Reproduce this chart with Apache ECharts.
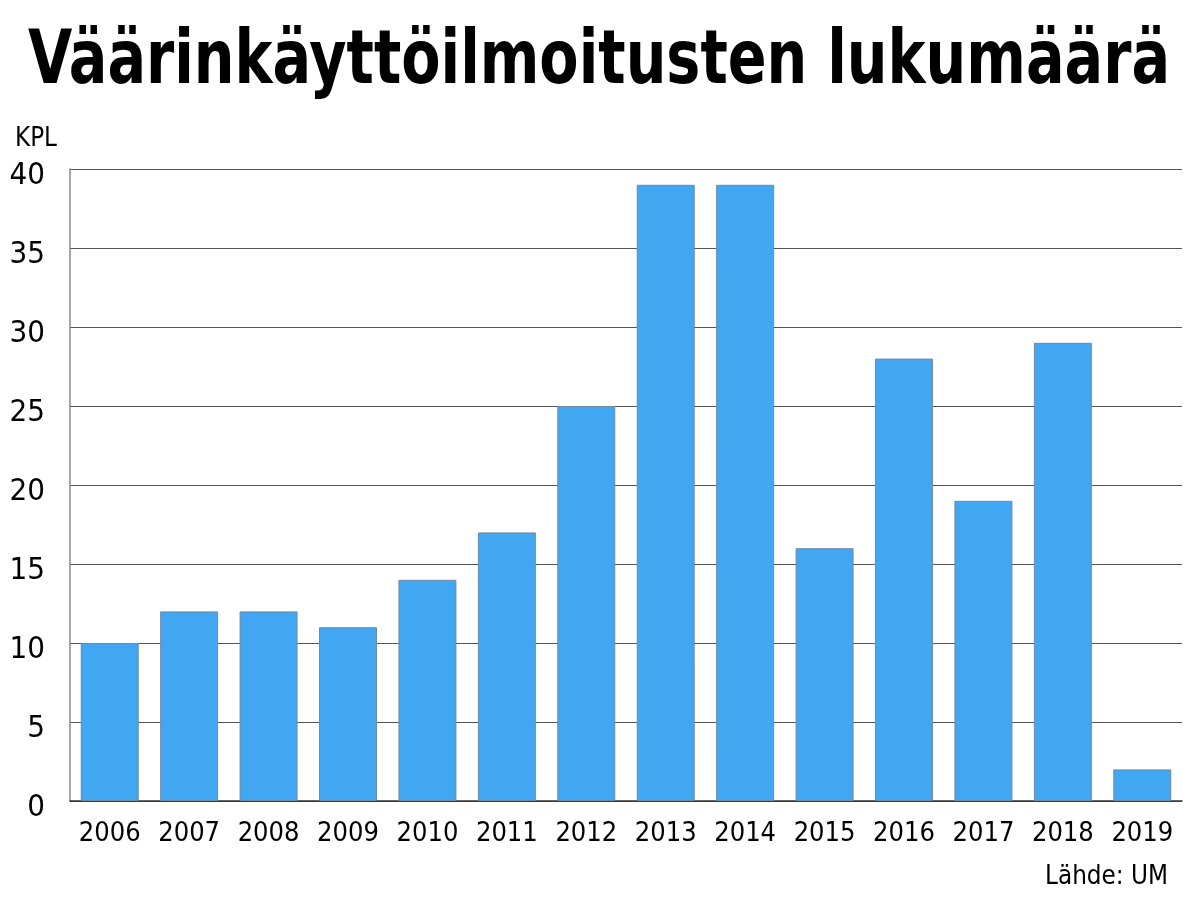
<!DOCTYPE html>
<html><head><meta charset="utf-8">
<script src="https://cdn.jsdelivr.net/npm/echarts@6/dist/echarts.min.js"></script>
<style>html,body{margin:0;padding:0;background:#fff}#c{width:1198px;height:899px}</style>
</head><body><div id="c"></div>
<script>
const years = ['2006','2007','2008','2009','2010','2011','2012','2013','2014','2015','2016','2017','2018','2019'];
const counts = [10,12,12,11,14,17,25,39,39,16,28,19,29,2];
const yTicks = [0,5,10,15,20,25,30,35,40];
const titleText = 'Väärinkäyttöilmoitusten lukumäärä';
const unitText = 'KPL';
const sourceText = 'Lähde: UM';

const FONT = '"DejaVu Sans Condensed", sans-serif';
const titleFont = 'bold 75px ' + FONT;
const cv = document.createElement('canvas').getContext('2d');
cv.font = titleFont;
const tw = cv.measureText(titleText).width;
const titleScale = 1142 / tw;

const smallFont = '27px ' + FONT;
cv.font = smallFont;
const kplScale = 42 / cv.measureText(unitText).width;
const srcScale = 123 / cv.measureText(sourceText).width;

const chart = echarts.init(document.getElementById('c'), null, {renderer:'canvas'});
chart.setOption({
  backgroundColor:'#fff',
  animation:false,
  graphic:[
    {type:'text', x:28, y:26, scaleX:titleScale, style:{text:titleText, font:titleFont, fill:'#000', textVerticalAlign:'top'}},
    {type:'text', x:15, y:125, scaleX:kplScale, style:{text:unitText, font:smallFont, fill:'#000', textVerticalAlign:'top'}},
    {type:'text', x:1168, y:863, scaleX:srcScale, style:{text:sourceText, font:smallFont, fill:'#000', textAlign:'right', textVerticalAlign:'top'}}
  ],
  grid:{left:70, right:16, top:169, bottom:98},
  xAxis:{type:'category', data:years,
    axisLine:{lineStyle:{color:'#333', width:1.5}}, axisTick:{show:false},
    axisLabel:{color:'#000', fontSize:27, fontFamily:FONT, margin:19, interval:0}},
  yAxis:{type:'value', min:0, max:40, interval:5,
    axisLine:{show:true, lineStyle:{color:'#888', width:1.5}}, axisTick:{show:false},
    splitLine:{lineStyle:{color:'#555', width:1}},
    axisLabel:{color:'#000', fontSize:31, fontFamily:FONT, margin:25, verticalAlign:'top', lineHeight:14,
      formatter: v => yTicks.includes(v) ? String(v) : ''}},
  series:[{type:'bar', data:counts, barWidth:'73%',
    itemStyle:{color:'#42a7f2', borderColor:'#6f8aa3', borderWidth:1}}]
});
</script></body></html>
